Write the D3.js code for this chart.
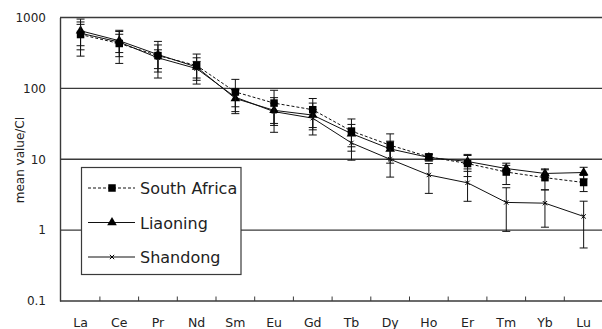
<!DOCTYPE html>
<html>
<head>
<meta charset="utf-8">
<script src="https://cdn.jsdelivr.net/npm/d3@7"></script>
<style>
  body { margin: 0; background: #fff; }
  text { font-family: "DejaVu Sans", sans-serif; fill: #222; }
</style>
</head>
<body>
<svg id="chart" width="602" height="329"></svg>
<script>
// REE element names (x categories)
const elements = ['La', 'Ce', 'Pr', 'Nd', 'Sm', 'Eu', 'Gd', 'Tb', 'Dy', 'Ho', 'Er', 'Tm', 'Yb', 'Lu'];

// mean value / CI, with confidence half-widths
const southAfrica   = [575, 430, 290, 210, 89, 62, 50, 25, 15.8, 10.8, 8.7, 6.6, 5.5, 4.7];
const southAfricaCI = [290, 205, 120, 95, 45, 32, 22, 12, 7, 1, 3, 2.2, 1.8, 1.2];
const liaoning      = [650, 470, 300, 200, 72, 49, 42, 23, 14, 10.6, 9.3, 7.4, 6.3, 6.5];
const liaoningCI    = [300, 190, 160, 70, 25, 25, 20, 8, 4, 1.2, 2, 0.8, 0.8, 1.2];
const shandong      = [600, 450, 270, 190, 75, 47, 38, 17, 10, 6.0, 4.65, 2.46, 2.4, 1.56];
const shandongCI    = [200, 130, 80, 50, 20, 15, 12, 7.3, 4.4, 2.7, 2.1, 1.5, 1.3, 1.0];

const yTicks = [0.1, 1, 10, 100, 1000];

var svg = d3.select('#chart');
var plotLeft = 60, plotRight = 603, plotTop = 17.5, plotBottom = 301;

var x = d3.scaleBand().domain(elements).range([plotLeft + 1.2, plotRight]);
var y = d3.scaleLog().domain([0.1, 1000]).range([plotBottom, plotTop]);

// horizontal grid lines (1, 10, 100, 1000)
svg.append('g')
  .selectAll('line')
  .data(yTicks.slice(1))
  .enter()
  .append('line')
  .attr('x1', plotLeft).attr('x2', 602)
  .attr('y1', d => y(d)).attr('y2', d => y(d))
  .attr('stroke', '#3a3a3a')
  .attr('stroke-width', 1.4);

// y axis (line only, labels on the left)
var yAxis = svg.append('g')
  .attr('transform', 'translate(' + plotLeft + ',0)')
  .call(d3.axisLeft(y).tickValues(yTicks).tickSize(0).tickPadding(14).tickFormat(d => String(d)));
yAxis.select('.domain').attr('stroke', '#3a3a3a').attr('stroke-width', 1.4);
yAxis.selectAll('text').style('font-size', '12px').attr('fill', '#222');

// x axis with inward ticks at the category borders
var xAxis = svg.append('g')
  .attr('transform', 'translate(0,' + plotBottom + ')');
xAxis.append('line')
  .attr('x1', plotLeft).attr('x2', 602)
  .attr('stroke', '#3a3a3a').attr('stroke-width', 1.4);
xAxis.selectAll('.tk')
  .data(elements.slice(1))
  .enter()
  .append('line')
  .attr('class', 'tk')
  .attr('x1', d => x(d)).attr('x2', d => x(d))
  .attr('y1', 0).attr('y2', -4.5)
  .attr('stroke', '#3a3a3a');
xAxis.selectAll('text')
  .data(elements)
  .enter()
  .append('text')
  .attr('x', d => x(d) + x.bandwidth() / 2)
  .attr('y', 26)
  .attr('text-anchor', 'middle')
  .style('font-size', '12.5px')
  .text(d => d);

svg.append('text')
  .attr('transform', 'translate(24,160) rotate(-90)')
  .attr('text-anchor', 'middle')
  .style('font-size', '12px')
  .text('mean value/CI');

var series = [
  { name: 'Shandong', values: shandong, ci: shandongCI, dash: null, symbol: 'x' },
  { name: 'Liaoning', values: liaoning, ci: liaoningCI, dash: null, symbol: 'triangle' },
  { name: 'South Africa', values: southAfrica, ci: southAfricaCI, dash: '3,2', symbol: 'square' }
];

var cx = d => x(d) + x.bandwidth() / 2;

function drawMarker(g, s, px, py) {
  if (s.symbol === 'square') {
    g.append('rect').attr('x', px - 3.75).attr('y', py - 3.75).attr('width', 7.5).attr('height', 7.5).attr('fill', '#000');
  } else if (s.symbol === 'triangle') {
    g.append('path').attr('transform', 'translate(' + px + ',' + py + ')')
      .attr('d', d3.symbol().type(d3.symbolTriangle).size(40)()).attr('fill', '#000');
  } else {
    g.append('path').attr('transform', 'translate(' + px + ',' + py + ')')
      .attr('d', d3.symbol().type(d3.symbolX).size(14)()).attr('fill', 'none').attr('stroke', '#000').attr('stroke-width', 1);
  }
}

var line = d3.line().x((d, i) => cx(elements[i])).y(d => y(d));

series.forEach(function (s) {
  var g = svg.append('g');
  // error bars
  s.values.forEach(function (v, i) {
    var px = cx(elements[i]);
    var hi = y(v + s.ci[i]), lo = y(Math.max(v - s.ci[i], 0.11));
    g.append('line').attr('x1', px).attr('x2', px).attr('y1', hi).attr('y2', lo).attr('stroke', '#111');
    [hi, lo].forEach(function (yy) {
      g.append('line').attr('x1', px - 4).attr('x2', px + 4).attr('y1', yy).attr('y2', yy).attr('stroke', '#111');
    });
  });
  g.append('path')
    .datum(s.values)
    .attr('d', line)
    .attr('fill', 'none')
    .attr('stroke', '#111')
    .attr('stroke-width', 1)
    .attr('stroke-dasharray', s.dash);
  s.values.forEach(function (v, i) {
    drawMarker(g, s, cx(elements[i]), y(v));
  });
});

// legend
var legend = svg.append('g');
legend.append('rect')
  .attr('x', 81.5).attr('y', 167.5).attr('width', 159.5).attr('height', 107)
  .attr('fill', '#fff').attr('stroke', '#3a3a3a').attr('stroke-width', 1.2);

var legendOrder = [series[2], series[1], series[0]];
legendOrder.forEach(function (s, i) {
  var ly = 188 + i * 34.5;
  legend.append('line')
    .attr('x1', 88).attr('x2', 135).attr('y1', ly).attr('y2', ly)
    .attr('stroke', '#111').attr('stroke-dasharray', s.dash);
  drawMarker(legend, s, 112, ly);
  legend.append('text')
    .attr('x', 140).attr('y', ly + 6)
    .style('font-size', '16px')
    .text(s.name);
});
</script>
</body>
</html>
